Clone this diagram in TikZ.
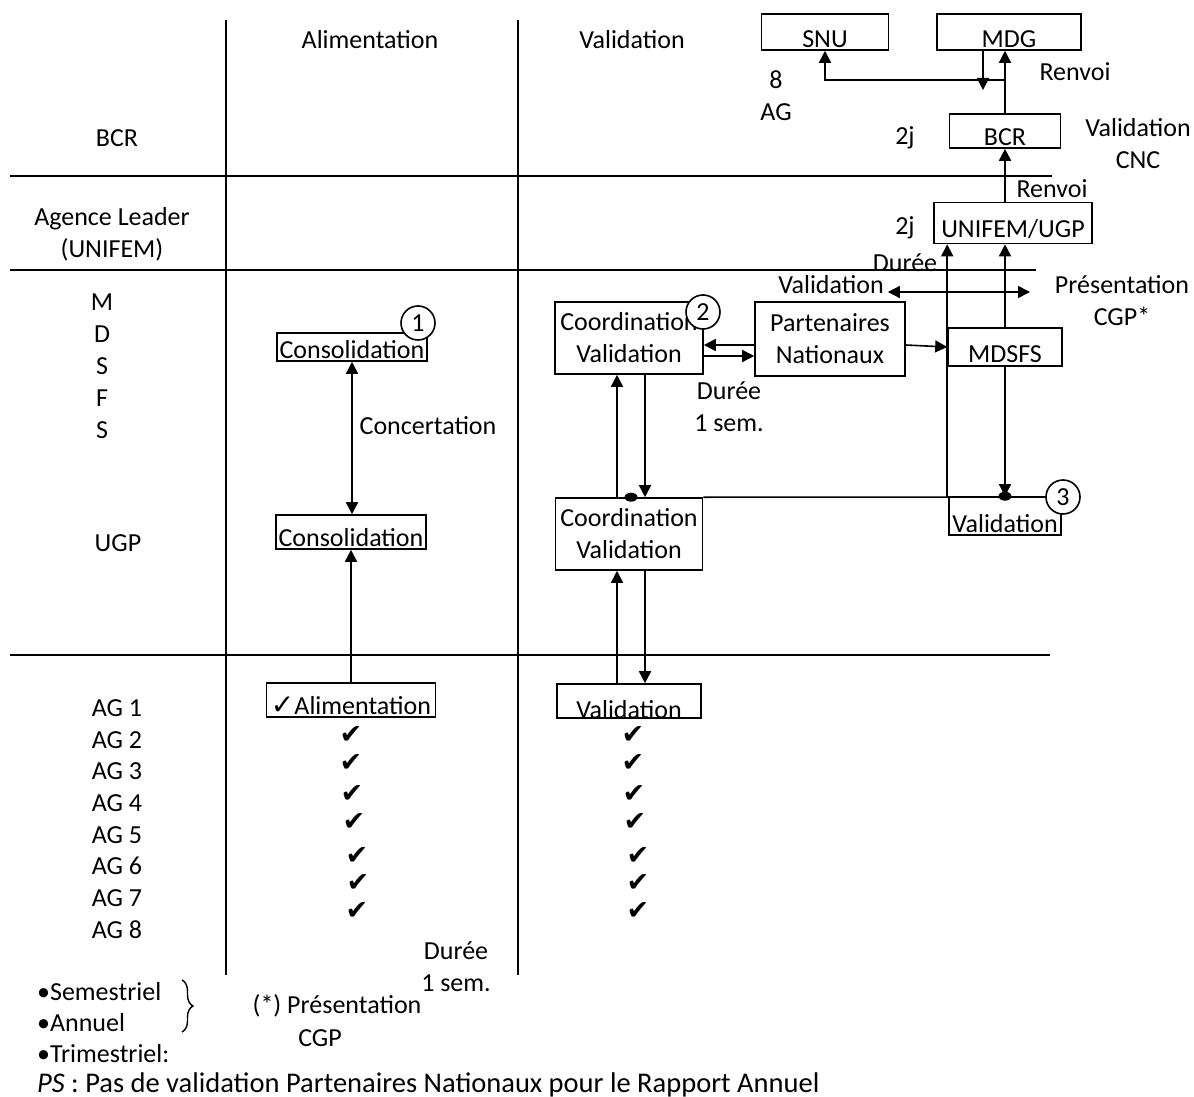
\documentclass[tikz,border=0pt]{standalone}
\usepackage{fontspec}
\setmainfont{Carlito}
\newfontfamily\symbfont{DejaVu Sans}
\usetikzlibrary{calc, positioning, shapes, shapes.geometric, arrows.meta, decorations.pathreplacing}
\newcommand\tickmark[3]{\node[tick] (#1) at (#2,#3) {✔};}
\newcommand\smalltick{{\symbfont\fontsize{28}{28}\selectfont ✓}}

\begin{document}
\begin{tikzpicture}[x=1pt, y=-1pt, line width=1.6pt,
	every node/.style={font=\fontsize{26}{32}\selectfont},
	box/.style={draw, inner xsep=2pt, inner ysep=0pt},
	twoline/.style={draw, align=center, inner xsep=2pt, inner ysep=0pt},
	numcirc/.style={circle, draw, fill=white, minimum size=34pt, inner sep=0pt, font=\fontsize{26}{26}\selectfont},
	arr/.style={-{Triangle[length=12pt,width=12pt]}},
	darr/.style={{Triangle[length=12pt,width=12pt]}-{Triangle[length=12pt,width=12pt]}},
	dot/.style={ellipse, fill, minimum width=13pt, minimum height=9pt, inner sep=0pt},
	lane/.style={line width=1.5pt},
	tick/.style={font=\symbfont\fontsize{27}{27}\selectfont, inner sep=0pt}]
	\useasboundingbox (0,0) rectangle (1194,1097);
	% lanes
	\draw[lane] (226,20) -- (226,975);
	\draw[lane] (518,20) -- (518,975);
	\draw[lane] (10,176) -- (1052,176);
	\draw[lane] (10,270) -- (1036,270);
	\draw[lane] (10,655) -- (1050,655);
	% headers and rows
	\node (hal) at (370,40) {Alimentation};
	\node (hval) at (632,40) {Validation};
	\node (rbcr) at (117,138) {BCR};
	\node[align=center] (rlead) at (112,234) {Agence Leader\\(UNIFEM)};
	\node[align=center] (rmdsfs) at (102,366) {M\\D\\S\\F\\S};
	\node (rugp) at (118,543) {UGP};
	\node[align=center, font=\fontsize{26}{31.7}\selectfont] (rag) at (117,819) {AG 1\\AG 2\\AG 3\\AG 4\\AG 5\\AG 6\\AG 7\\AG 8};
	% boxes
	\node[box, minimum width=150pt, text height=25pt, text depth=3pt] (cons1) at (352,347) {Consolidation};
	\node[box, minimum width=150pt, text height=31pt, text depth=3pt] (cons2) at (351,532) {Consolidation};
	\node[box, minimum width=169pt, text height=31pt, text depth=3pt, inner xsep=1pt] (alim) at (351,700) {\smalltick Alimentation};
	\node[box, minimum width=144pt, text height=34pt, text depth=-2pt] (valbot) at (629,701) {Validation};
	\node[twoline, minimum width=148pt, minimum height=72pt] (coord1) at (629,338) {Coordination\\Validation};
	\node[twoline, minimum width=147pt, minimum height=72pt] (coord2) at (629,534) {Coordination\\Validation};
	\node[twoline, minimum width=150pt, minimum height=74pt] (parten) at (830,339) {Partenaires\\Nationaux};
	\node[box, minimum width=114pt, text height=34pt, text depth=4pt] (mdsfs) at (1005,347) {MDSFS};
	\node[box, minimum width=112pt, text height=35pt, text depth=3pt] (val3) at (1005,516) {Validation};
	\node[box, minimum width=111pt, text height=32pt, text depth=2pt] (bcr) at (1005,131) {BCR};
	\node[box, minimum width=158pt, text height=35pt, text depth=6pt] (unifem) at (1013,223) {UNIFEM/UGP};
	\node[box, minimum width=127pt, text height=34pt, text depth=2pt] (snu) at (825,32) {SNU};
	\node[box, minimum width=144pt, text height=34pt, text depth=2pt] (mdg) at (1009,32) {MDG};
	% numbered circles
	\node[numcirc] (c1) at (418,323) {1};
	\node[numcirc] (c2) at (703,312) {2};
	\node[numcirc] (c3) at (1063,497) {3};
	% free texts
	\node (t8) at (776,80) {8};
	\node (tag) at (776,112) {AG};
	\node (renv1) at (1075,72) {Renvoi};
	\node (dj1) at (905,138) {2j};
	\node[align=center] (vcnc) at (1138,144) {Validation\\CNC};
	\node (renv2) at (1052,189) {Renvoi};
	\node (dj2) at (905,228) {2j};
	\node (durtop) at (905,263) {Durée};
	\node (vpres) at (831,285) {Validation};
	\node[align=center] (pres) at (1122,301) {Présentation\\CGP*};
	\node[align=center] (dursem) at (729,407) {Durée\\1 sem.};
	\node (concert) at (428,426) {Concertation};
	\node[align=center] (dursem2) at (456,967) {Durée\\1 sem.};
	% check marks
	\foreach \i/\xa/\xb/\yy in {2/351/633/735, 3/351/633/763, 4/352/634/794, 5/354/635/822, 6/357/638/856, 7/358/638/883, 8/357/638/911}{
		\tickmark{ckA\i}{\xa}{\yy}
		\tickmark{ckV\i}{\xb}{\yy}
	}
	% connectors
	\coordinate (jn) at (mdsfs.west |- coord2.north);
	\coordinate (split) at (1005,80);
	\coordinate (drop) at (983,90);
	\coordinate (presin) at (1030,292);
	\draw[darr] (cons1.south) -- (cons1.south |- cons2.north);
	\draw[arr] (alim.north) -- (alim.north |- cons2.south);
	\draw[arr] ([xshift=-12pt]coord2.north) -- ([xshift=-12pt]coord1.south);
	\draw[arr] ([xshift=16pt]coord1.south) -- ([xshift=16pt]coord2.north);
	\draw[arr] ([xshift=-12pt]valbot.north) -- ([xshift=-12pt]coord2.south);
	\draw[arr] ([xshift=16pt]coord2.south) -- ([xshift=16pt]valbot.north);
	\draw[arr] ([yshift=-6pt]parten.west) -- ([yshift=-6pt]parten.west -| coord1.east);
	\draw[arr] ([yshift=-18pt]coord1.east) -- ([yshift=-18pt]coord1.east -| parten.west);
	\draw[arr] ([yshift=-6pt]parten.east) -- (mdsfs.west);
	\draw (coord2.north east) -- (c3.west);
	\draw[arr] (jn) -- (jn |- unifem.south);
	\draw[arr] (mdsfs.north) -- (mdsfs.north |- unifem.south);
	\draw[arr] (mdsfs.south) -- (val3.north);
	\node[dot] (dotL) at ([xshift=2pt]coord2.north) {};
	\node[dot] (dotR) at (val3.north) {};
	\draw[darr] ([yshift=-7pt]vpres.east) -- (presin);
	\draw[arr] (bcr.south |- unifem.north) -- (bcr.south);
	\draw[arr] (bcr.north) -- (bcr.north |- mdg.south);
	\draw[arr] (split) -| (snu.south);
	\draw[arr] (mdg.south -| drop) -- (drop);
	% legend
	\node[anchor=base west] (lsem) at (33,1000) {•Semestriel};
	\node[anchor=base west] (lann) at (33,1031) {•Annuel};
	\node[anchor=base west] (ltri) at (33,1062) {•Trimestriel:};
	\draw[line width=1.4pt, decorate, decoration={brace, amplitude=11pt}] (182,980) -- (182,1032);
	\node (prescgp) at (337,1006) {(*) Présentation};
	\node (prescgp2) at (320,1038) {CGP};
	\node[anchor=base west, font=\fontsize{28.5}{32}\selectfont] (ps) at (33,1092) {\textit{PS} : Pas de validation Partenaires Nationaux pour le Rapport Annuel};
\end{tikzpicture}
\end{document}
